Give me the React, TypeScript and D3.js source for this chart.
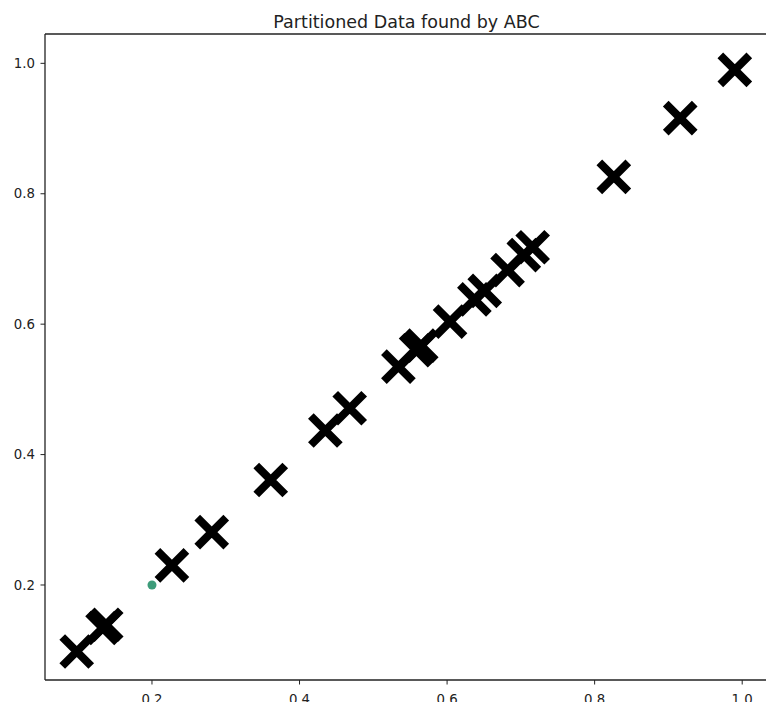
import React from "react";
import * as d3 from "d3";

const title = "Partitioned Data found by ABC";
const xValues = [0.098, 0.133, 0.138, 0.227, 0.281, 0.361, 0.435, 0.468, 0.534, 0.558, 0.565, 0.604, 0.637, 0.651, 0.682, 0.704, 0.716, 0.826, 0.916, 0.99];
const yValues = [0.098, 0.134, 0.139, 0.23, 0.281, 0.361, 0.437, 0.471, 0.535, 0.56, 0.567, 0.604, 0.638, 0.651, 0.683, 0.706, 0.718, 0.826, 0.916, 0.99];
const centerX = [0.2];
const centerY = [0.2];
const xTicks = [0.2, 0.4, 0.6, 0.8, 1.0];
const yTicks = [0.2, 0.4, 0.6, 0.8, 1.0];

const W = 766;
const H = 702;
const left = 45, right = 772, top = 34, bottom = 680;

export default function App() {
  const x = d3.scaleLinear().domain([0.055, 1.0404]).range([left, right]);
  const y = d3.scaleLinear().domain([0.0543, 1.045]).range([bottom, top]);
  const h = 14.5;
  const font = "'DejaVu Sans', sans-serif";
  const points = xValues.map((v, i) => [x(v), y(yValues[i])]);
  const titleX = x((0.055 + 1.035) / 2);
  return (
    <svg width={W} height={H} style={{ position: "absolute", left: 0, top: 0, background: "#fff" }}>
      <rect x={0} y={0} width={W} height={H} fill="#fff" />
      <text x={titleX} y={28} textAnchor="middle" fontFamily={font} fontSize={17.5} fill="#222">{title}</text>
      <g>
        {points.map(([px, py], i) => (
          <path key={i}
            d={`M${px - h},${py - h}L${px + h},${py + h}M${px - h},${py + h}L${px + h},${py - h}`}
            stroke="#000" strokeWidth={8} strokeLinecap="butt" fill="none" />
        ))}
        {centerX.map((v, i) => (
          <circle key={i} cx={x(v)} cy={y(centerY[i])} r={4.5} fill="#3d9c7a" />
        ))}
      </g>
      <g stroke="#222" strokeWidth={1.3} fill="none">
        <line x1={left} y1={top} x2={left} y2={bottom} />
        <line x1={left} y1={bottom} x2={right} y2={bottom} />
        <line x1={left} y1={top} x2={right} y2={top} />
        <line x1={right} y1={top} x2={right} y2={bottom} />
      </g>
      {yTicks.map((t) => (
        <g key={"y" + t}>
          <line x1={left - 4.5} x2={left} y1={y(t)} y2={y(t)} stroke="#222" strokeWidth={1} />
          <text x={35} y={y(t)} dy="0.35em" textAnchor="end" fontFamily={font} fontSize={13.3} fill="#222">{t.toFixed(1)}</text>
        </g>
      ))}
      {xTicks.map((t) => (
        <g key={"x" + t}>
          <line x1={x(t)} x2={x(t)} y1={bottom} y2={bottom + 4.5} stroke="#222" strokeWidth={1} />
          <text x={x(t)} y={703.5} textAnchor="middle" fontFamily={font} fontSize={13.3} fill="#222">{t.toFixed(1)}</text>
        </g>
      ))}
    </svg>
  );
}
